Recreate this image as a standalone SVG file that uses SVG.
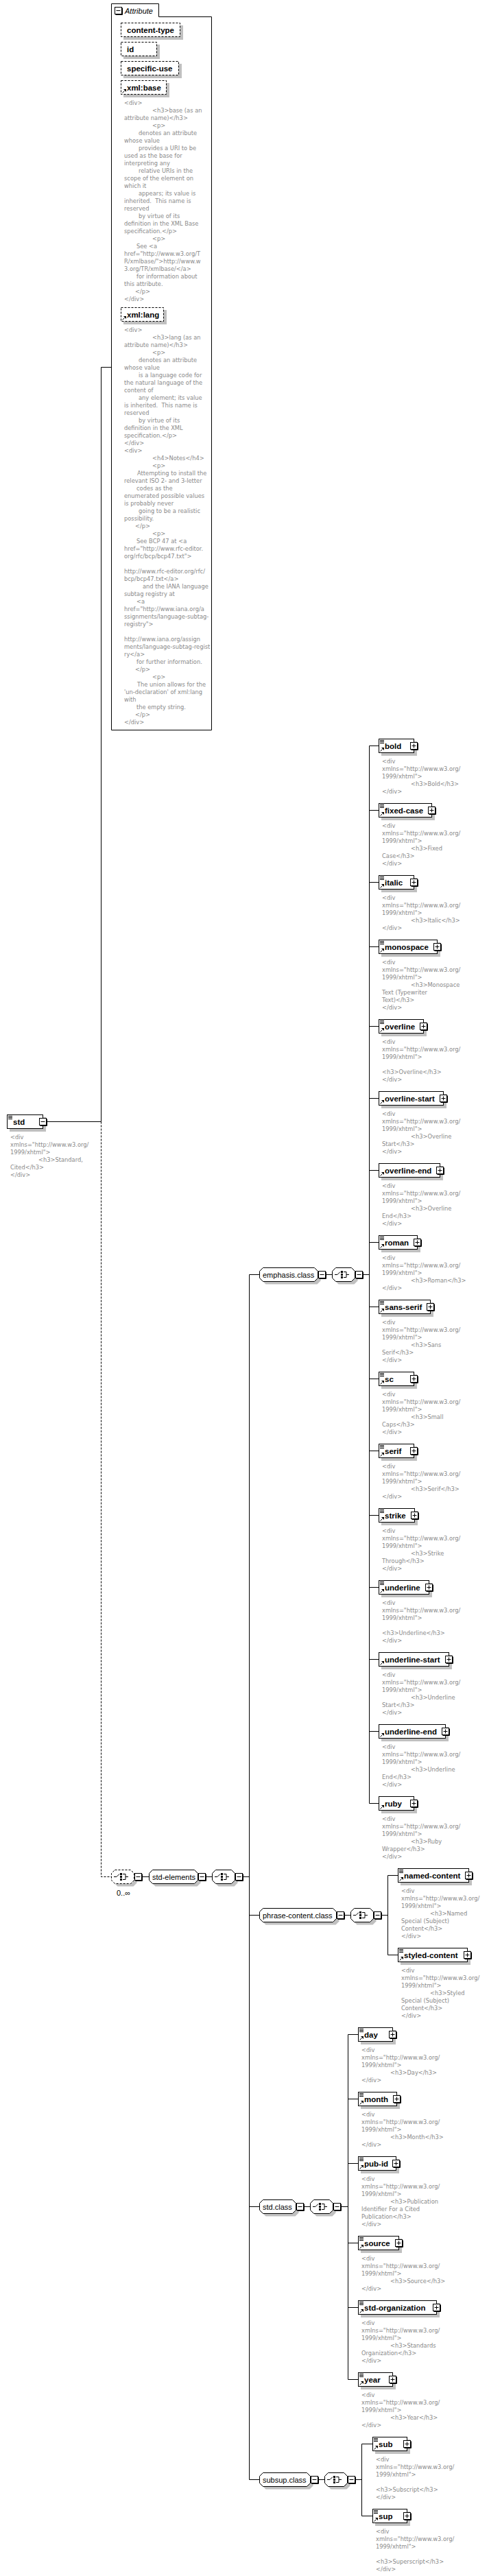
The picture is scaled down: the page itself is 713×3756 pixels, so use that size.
<svg xmlns="http://www.w3.org/2000/svg" width="713" height="3756" viewBox="0 0 713 3756">
<style>
.box{fill:#fff;stroke:#000;stroke-width:1}
.dbox{fill:#fff;stroke:#000;stroke-width:1;stroke-dasharray:3,2}
.sh{fill:#c0c0c0}
.lbl{font-family:"Liberation Sans",Arial,sans-serif;font-size:11.5px;font-weight:bold;fill:#000}
.glbl{font-family:"Liberation Sans",Arial,sans-serif;font-size:11px;fill:#000}
.ital{font-family:"Liberation Sans",Arial,sans-serif;font-size:11px;font-style:italic;fill:#000}
.d{font-family:"DejaVu Sans",Verdana,sans-serif;font-size:8.3px;fill:#8a8a8a}
.ln{fill:none;stroke:#000;stroke-width:1}
.dl{fill:none;stroke:#000;stroke-width:1;stroke-dasharray:3,2}
</style>
<defs>
<g id="plus"><path d="M11.5 1.5V11.5H1.5" class="ln"/><rect x="0.5" y="0.5" width="10" height="10" class="box"/><path d="M2.5 5.5H8.5M5.5 2.5V8.5" class="ln"/></g>
<g id="minus"><path d="M11.5 1.5V11.5H1.5" class="ln"/><rect x="0.5" y="0.5" width="10" height="10" class="box"/><path d="M2.5 5.5H8.5" class="ln"/></g>
<path id="eq" d="M2 2.5H8M2 4.5H8M2 6.5H8" class="ln"/>
<g id="ref"><path d="M2.5 18.5L5.5 15.5" class="ln"/><path d="M4 13H8V17Z" fill="#000"/></g>
<g id="choice"><path d="M4 10.5H8L12 6.5M17 6.5H21V14.5H17M21 10.5H25" class="ln"/><rect x="13" y="5" width="3" height="3"/><rect x="13" y="9" width="3" height="3"/><rect x="13" y="13" width="3" height="3"/></g>
</defs>
<rect width="713" height="3756" fill="#fff"/>

<g id="connectors">
<path class="ln" d="M68 1635.5H147.5M147.5 535.5V1635.5M147.5 535.5H162"/>
<path class="dl" d="M147.5 1635.5V2736.5H162"/>
<path class="ln" d="M207 2736.5H217M300 2736.5H309M354 2736.5H363.5M363.5 1858.5V3615.5"/>
<path class="ln" d="M363.5 1858.5H378M363.5 2792.5H378M363.5 3217.5H378M363.5 3615.5H378"/>
<path class="ln" d="M475 1858.5H484M529 1858.5H538.5M538.5 1087.5V2629.5"/>
<path class="ln" d="M538.5 1087.5H552M538.5 1181.5H552M538.5 1286.5H552M538.5 1380.5H552M538.5 1496.5H552M538.5 1601.5H552M538.5 1706.5H552M538.5 1811.5H552M538.5 1905.5H552M538.5 2010.5H552M538.5 2115.5H552M538.5 2209.5H552M538.5 2314.5H552M538.5 2419.5H552M538.5 2524.5H552M538.5 2629.5H552"/>
<path class="ln" d="M502 2792.5H511M556 2792.5H565.5M565.5 2734.5V2850.5M565.5 2734.5H580M565.5 2850.5H580"/>
<path class="ln" d="M443 3217.5H452M497 3217.5H507.5M507.5 2966.5V3469.5M507.5 2966.5H522M507.5 3060.5H522M507.5 3154.5H522M507.5 3270.5H522M507.5 3364.5H522M507.5 3469.5H522"/>
<path class="ln" d="M464 3615.5H473M518 3615.5H527.5M527.5 3563.5V3668.5M527.5 3563.5H543M527.5 3668.5H543"/>
</g>

<g id="attributes">
<path class="box" d="M162.5 5.5H231.5V24.5H308.5V1064.5H162.5Z"/>
<use href="#minus" x="167" y="10"/>
<text class="ital" x="182" y="20">Attribute</text>
</g>

<g id="attr-content-type">
<rect class="sh" x="180" y="37" width="87" height="21"/>
<rect class="dbox" x="176.5" y="33.5" width="86" height="20"/>
<text class="lbl" x="185" y="47.5">content-type</text>
</g>
<g id="attr-id">
<rect class="sh" x="180" y="65" width="53" height="21"/>
<rect class="dbox" x="176.5" y="61.5" width="52" height="20"/>
<text class="lbl" x="185" y="75.5">id</text>
</g>
<g id="attr-specific-use">
<rect class="sh" x="180" y="93" width="85" height="21"/>
<rect class="dbox" x="176.5" y="89.5" width="84" height="20"/>
<text class="lbl" x="185" y="103.5">specific-use</text>
</g>
<g id="attr-xml-base">
<rect class="sh" x="180" y="121" width="67" height="21"/>
<rect class="dbox" x="176.5" y="117.5" width="66" height="20"/>
<use href="#ref" x="176" y="117"/>
<text class="lbl" x="185" y="131.5">xml:base</text>
<text class="d">
<tspan x="181" y="153">&lt;div&gt;</tspan>
<tspan x="222" y="164">&lt;h3&gt;base (as an</tspan>
<tspan x="181" y="175">attribute name)&lt;/h3&gt;</tspan>
<tspan x="222" y="186">&lt;p&gt;</tspan>
<tspan x="202" y="197">denotes an attribute</tspan>
<tspan x="181" y="208">whose value</tspan>
<tspan x="202" y="219">provides a URI to be</tspan>
<tspan x="181" y="230">used as the base for</tspan>
<tspan x="181" y="241">interpreting any</tspan>
<tspan x="202" y="252">relative URIs in the</tspan>
<tspan x="181" y="263">scope of the element on</tspan>
<tspan x="181" y="274">which it</tspan>
<tspan x="202" y="285">appears; its value is</tspan>
<tspan x="181" y="296">inherited.&#160; This name is</tspan>
<tspan x="181" y="307">reserved</tspan>
<tspan x="202" y="318">by virtue of its</tspan>
<tspan x="181" y="329">definition in the XML Base</tspan>
<tspan x="181" y="340">specification.&lt;/p&gt;</tspan>
<tspan x="222" y="351">&lt;p&gt;</tspan>
<tspan x="199" y="362">See &lt;a</tspan>
<tspan x="181" y="373">href="http://www.w3.org/T</tspan>
<tspan x="181" y="384">R/xmlbase/"&gt;http://www.w</tspan>
<tspan x="181" y="395">3.org/TR/xmlbase/&lt;/a&gt;</tspan>
<tspan x="199" y="406">for information about</tspan>
<tspan x="181" y="417">this attribute.</tspan>
<tspan x="197" y="428">&lt;/p&gt;</tspan>
<tspan x="181" y="439">&lt;/div&gt;</tspan>
</text>
</g>
<g id="attr-xml-lang">
<rect class="sh" x="180" y="452" width="63" height="21"/>
<rect class="dbox" x="176.5" y="448.5" width="62" height="20"/>
<use href="#ref" x="176" y="448"/>
<text class="lbl" x="185" y="462.5">xml:lang</text>
<text class="d">
<tspan x="181" y="484">&lt;div&gt;</tspan>
<tspan x="222" y="495">&lt;h3&gt;lang (as an</tspan>
<tspan x="181" y="506">attribute name)&lt;/h3&gt;</tspan>
<tspan x="222" y="517">&lt;p&gt;</tspan>
<tspan x="202" y="528">denotes an attribute</tspan>
<tspan x="181" y="539">whose value</tspan>
<tspan x="202" y="550">is a language code for</tspan>
<tspan x="181" y="561">the natural language of the</tspan>
<tspan x="181" y="572">content of</tspan>
<tspan x="202" y="583">any element; its value</tspan>
<tspan x="181" y="594">is inherited.&#160; This name is</tspan>
<tspan x="181" y="605">reserved</tspan>
<tspan x="202" y="616">by virtue of its</tspan>
<tspan x="181" y="627">definition in the XML</tspan>
<tspan x="181" y="638">specification.&lt;/p&gt;</tspan>
<tspan x="181" y="649">&lt;/div&gt;</tspan>
<tspan x="181" y="660">&lt;div&gt;</tspan>
<tspan x="222" y="671">&lt;h4&gt;Notes&lt;/h4&gt;</tspan>
<tspan x="222" y="682">&lt;p&gt;</tspan>
<tspan x="200" y="693">Attempting to install the</tspan>
<tspan x="181" y="704">relevant ISO 2- and 3-letter</tspan>
<tspan x="199" y="715">codes as the</tspan>
<tspan x="181" y="726">enumerated possible values</tspan>
<tspan x="181" y="737">is probably never</tspan>
<tspan x="202" y="748">going to be a realistic</tspan>
<tspan x="181" y="759">possibility.</tspan>
<tspan x="197" y="770">&lt;/p&gt;</tspan>
<tspan x="222" y="781">&lt;p&gt;</tspan>
<tspan x="199" y="792">See BCP 47 at &lt;a</tspan>
<tspan x="181" y="803">href="http://www.rfc-editor.</tspan>
<tspan x="181" y="814">org/rfc/bcp/bcp47.txt"&gt;</tspan>
<tspan x="181" y="836">http://www.rfc-editor.org/rfc/</tspan>
<tspan x="181" y="847">bcp/bcp47.txt&lt;/a&gt;</tspan>
<tspan x="208" y="858">and the IANA language</tspan>
<tspan x="181" y="869">subtag registry at</tspan>
<tspan x="199" y="880">&lt;a</tspan>
<tspan x="181" y="891">href="http://www.iana.org/a</tspan>
<tspan x="181" y="902">ssignments/language-subtag-</tspan>
<tspan x="181" y="913">registry"&gt;</tspan>
<tspan x="181" y="935">http://www.iana.org/assign</tspan>
<tspan x="181" y="946">ments/language-subtag-regist</tspan>
<tspan x="181" y="957">ry&lt;/a&gt;</tspan>
<tspan x="199" y="968">for further information.</tspan>
<tspan x="197" y="979">&lt;/p&gt;</tspan>
<tspan x="222" y="990">&lt;p&gt;</tspan>
<tspan x="200" y="1001">The union allows for the</tspan>
<tspan x="181" y="1012">'un-declaration' of xml:lang</tspan>
<tspan x="181" y="1023">with</tspan>
<tspan x="199" y="1034">the empty string.</tspan>
<tspan x="197" y="1045">&lt;/p&gt;</tspan>
<tspan x="181" y="1056">&lt;/div&gt;</tspan>
</text>
</g>

<g id="std">
<rect class="sh" x="14" y="1629" width="53" height="21"/>
<rect class="box" x="10.5" y="1625.5" width="52" height="20"/>
<use href="#eq" x="10" y="1625"/>
<text class="lbl" x="19" y="1639.5">std</text>
<use href="#minus" x="57" y="1630"/>
<text class="d"><tspan x="15" y="1661">&lt;div</tspan><tspan x="15" y="1672">xmlns="http://www.w3.org/</tspan><tspan x="15" y="1683">1999/xhtml"&gt;</tspan><tspan x="56" y="1694">&lt;h3&gt;Standard,</tspan><tspan x="15" y="1705">Cited&lt;/h3&gt;</tspan><tspan x="15" y="1716">&lt;/div&gt;</tspan></text>
</g>

<g id="choice-std">
<polygon class="sh" transform="translate(4,4)" points="167.5,2726.5 190.5,2726.5 195.5,2731.5 195.5,2741.5 190.5,2746.5 167.5,2746.5 162.5,2741.5 162.5,2731.5"/>
<polygon class="dbox" points="167.5,2726.5 190.5,2726.5 195.5,2731.5 195.5,2741.5 190.5,2746.5 167.5,2746.5 162.5,2741.5 162.5,2731.5"/>
<use href="#choice" x="162" y="2726"/>
<use href="#minus" x="196" y="2731"/>
<text class="glbl" x="170" y="2764">0..∞</text>
</g>

<g id="std-elements">
<polygon class="sh" transform="translate(4,4)" points="222.5,2726.5 283.5,2726.5 288.5,2731.5 288.5,2741.5 283.5,2746.5 222.5,2746.5 217.5,2741.5 217.5,2731.5"/>
<polygon class="box" points="222.5,2726.5 283.5,2726.5 288.5,2731.5 288.5,2741.5 283.5,2746.5 222.5,2746.5 217.5,2741.5 217.5,2731.5"/>
<text class="glbl" x="222" y="2740.5">std-elements</text>
<use href="#minus" x="289" y="2731"/>
</g>

<g id="choice-std-elements">
<polygon class="sh" transform="translate(4,4)" points="314.5,2726.5 337.5,2726.5 342.5,2731.5 342.5,2741.5 337.5,2746.5 314.5,2746.5 309.5,2741.5 309.5,2731.5"/>
<polygon class="box" points="314.5,2726.5 337.5,2726.5 342.5,2731.5 342.5,2741.5 337.5,2746.5 314.5,2746.5 309.5,2741.5 309.5,2731.5"/>
<use href="#choice" x="309" y="2726"/>
<use href="#minus" x="343" y="2731"/>
</g>

<g id="emphasis-class">
<polygon class="sh" transform="translate(4,4)" points="383.5,1848.5 458.5,1848.5 463.5,1853.5 463.5,1863.5 458.5,1868.5 383.5,1868.5 378.5,1863.5 378.5,1853.5"/>
<polygon class="box" points="383.5,1848.5 458.5,1848.5 463.5,1853.5 463.5,1863.5 458.5,1868.5 383.5,1868.5 378.5,1863.5 378.5,1853.5"/>
<text class="glbl" x="383" y="1862.5">emphasis.class</text>
<use href="#minus" x="464" y="1853"/>
<polygon class="sh" transform="translate(4,4)" points="489.5,1848.5 512.5,1848.5 517.5,1853.5 517.5,1863.5 512.5,1868.5 489.5,1868.5 484.5,1863.5 484.5,1853.5"/>
<polygon class="box" points="489.5,1848.5 512.5,1848.5 517.5,1853.5 517.5,1863.5 512.5,1868.5 489.5,1868.5 484.5,1863.5 484.5,1853.5"/>
<use href="#choice" x="484" y="1848"/>
<use href="#minus" x="518" y="1853"/>
</g>

<g id="phrase-content-class">
<polygon class="sh" transform="translate(4,4)" points="383.5,2782.5 485.5,2782.5 490.5,2787.5 490.5,2797.5 485.5,2802.5 383.5,2802.5 378.5,2797.5 378.5,2787.5"/>
<polygon class="box" points="383.5,2782.5 485.5,2782.5 490.5,2787.5 490.5,2797.5 485.5,2802.5 383.5,2802.5 378.5,2797.5 378.5,2787.5"/>
<text class="glbl" x="383" y="2796.5">phrase-content.class</text>
<use href="#minus" x="491" y="2787"/>
<polygon class="sh" transform="translate(4,4)" points="516.5,2782.5 539.5,2782.5 544.5,2787.5 544.5,2797.5 539.5,2802.5 516.5,2802.5 511.5,2797.5 511.5,2787.5"/>
<polygon class="box" points="516.5,2782.5 539.5,2782.5 544.5,2787.5 544.5,2797.5 539.5,2802.5 516.5,2802.5 511.5,2797.5 511.5,2787.5"/>
<use href="#choice" x="511" y="2782"/>
<use href="#minus" x="545" y="2787"/>
</g>

<g id="std-class">
<polygon class="sh" transform="translate(4,4)" points="383.5,3207.5 426.5,3207.5 431.5,3212.5 431.5,3222.5 426.5,3227.5 383.5,3227.5 378.5,3222.5 378.5,3212.5"/>
<polygon class="box" points="383.5,3207.5 426.5,3207.5 431.5,3212.5 431.5,3222.5 426.5,3227.5 383.5,3227.5 378.5,3222.5 378.5,3212.5"/>
<text class="glbl" x="383" y="3221.5">std.class</text>
<use href="#minus" x="432" y="3212"/>
<polygon class="sh" transform="translate(4,4)" points="457.5,3207.5 480.5,3207.5 485.5,3212.5 485.5,3222.5 480.5,3227.5 457.5,3227.5 452.5,3222.5 452.5,3212.5"/>
<polygon class="box" points="457.5,3207.5 480.5,3207.5 485.5,3212.5 485.5,3222.5 480.5,3227.5 457.5,3227.5 452.5,3222.5 452.5,3212.5"/>
<use href="#choice" x="452" y="3207"/>
<use href="#minus" x="486" y="3212"/>
</g>

<g id="subsup-class">
<polygon class="sh" transform="translate(4,4)" points="383.5,3605.5 447.5,3605.5 452.5,3610.5 452.5,3620.5 447.5,3625.5 383.5,3625.5 378.5,3620.5 378.5,3610.5"/>
<polygon class="box" points="383.5,3605.5 447.5,3605.5 452.5,3610.5 452.5,3620.5 447.5,3625.5 383.5,3625.5 378.5,3620.5 378.5,3610.5"/>
<text class="glbl" x="383" y="3619.5">subsup.class</text>
<use href="#minus" x="453" y="3610"/>
<polygon class="sh" transform="translate(4,4)" points="478.5,3605.5 501.5,3605.5 506.5,3610.5 506.5,3620.5 501.5,3625.5 478.5,3625.5 473.5,3620.5 473.5,3610.5"/>
<polygon class="box" points="478.5,3605.5 501.5,3605.5 506.5,3610.5 506.5,3620.5 501.5,3625.5 478.5,3625.5 473.5,3620.5 473.5,3610.5"/>
<use href="#choice" x="473" y="3605"/>
<use href="#minus" x="507" y="3610"/>
</g>

<g id="el-bold">
<rect class="sh" x="556" y="1081" width="52" height="21"/><rect class="box" x="552.5" y="1077.5" width="51" height="20"/>
<use href="#eq" x="552" y="1077"/><use href="#ref" x="552" y="1077"/>
<text class="lbl" x="561" y="1091.5">bold</text><use href="#plus" x="598" y="1082"/>
<text class="d"><tspan x="557" y="1113">&lt;div</tspan><tspan x="557" y="1124">xmlns="http://www.w3.org/</tspan><tspan x="557" y="1135">1999/xhtml"&gt;</tspan><tspan x="599" y="1146">&lt;h3&gt;Bold&lt;/h3&gt;</tspan><tspan x="557" y="1157">&lt;/div&gt;</tspan></text>
</g>
<g id="el-fixed-case">
<rect class="sh" x="556" y="1175" width="78" height="21"/><rect class="box" x="552.5" y="1171.5" width="77" height="20"/>
<use href="#eq" x="552" y="1171"/><use href="#ref" x="552" y="1171"/>
<text class="lbl" x="561" y="1185.5">fixed-case</text><use href="#plus" x="624" y="1176"/>
<text class="d"><tspan x="557" y="1207">&lt;div</tspan><tspan x="557" y="1218">xmlns="http://www.w3.org/</tspan><tspan x="557" y="1229">1999/xhtml"&gt;</tspan><tspan x="599" y="1240">&lt;h3&gt;Fixed</tspan><tspan x="557" y="1251">Case&lt;/h3&gt;</tspan><tspan x="557" y="1262">&lt;/div&gt;</tspan></text>
</g>
<g id="el-italic">
<rect class="sh" x="556" y="1280" width="52" height="21"/><rect class="box" x="552.5" y="1276.5" width="51" height="20"/>
<use href="#eq" x="552" y="1276"/><use href="#ref" x="552" y="1276"/>
<text class="lbl" x="561" y="1290.5">italic</text><use href="#plus" x="598" y="1281"/>
<text class="d"><tspan x="557" y="1312">&lt;div</tspan><tspan x="557" y="1323">xmlns="http://www.w3.org/</tspan><tspan x="557" y="1334">1999/xhtml"&gt;</tspan><tspan x="599" y="1345">&lt;h3&gt;Italic&lt;/h3&gt;</tspan><tspan x="557" y="1356">&lt;/div&gt;</tspan></text>
</g>
<g id="el-monospace">
<rect class="sh" x="556" y="1374" width="86" height="21"/><rect class="box" x="552.5" y="1370.5" width="85" height="20"/>
<use href="#eq" x="552" y="1370"/><use href="#ref" x="552" y="1370"/>
<text class="lbl" x="561" y="1384.5">monospace</text><use href="#plus" x="632" y="1375"/>
<text class="d"><tspan x="557" y="1406">&lt;div</tspan><tspan x="557" y="1417">xmlns="http://www.w3.org/</tspan><tspan x="557" y="1428">1999/xhtml"&gt;</tspan><tspan x="599" y="1439">&lt;h3&gt;Monospace</tspan><tspan x="557" y="1450">Text (Typewriter</tspan><tspan x="557" y="1461">Text)&lt;/h3&gt;</tspan><tspan x="557" y="1472">&lt;/div&gt;</tspan></text>
</g>
<g id="el-overline">
<rect class="sh" x="556" y="1490" width="66" height="21"/><rect class="box" x="552.5" y="1486.5" width="65" height="20"/>
<use href="#eq" x="552" y="1486"/><use href="#ref" x="552" y="1486"/>
<text class="lbl" x="561" y="1500.5">overline</text><use href="#plus" x="612" y="1491"/>
<text class="d"><tspan x="557" y="1522">&lt;div</tspan><tspan x="557" y="1533">xmlns="http://www.w3.org/</tspan><tspan x="557" y="1544">1999/xhtml"&gt;</tspan><tspan x="557" y="1566">&lt;h3&gt;Overline&lt;/h3&gt;</tspan><tspan x="557" y="1577">&lt;/div&gt;</tspan></text>
</g>
<g id="el-overline-start">
<rect class="sh" x="556" y="1595" width="95" height="21"/><rect class="box" x="552.5" y="1591.5" width="94" height="20"/>
<use href="#ref" x="552" y="1591"/>
<text class="lbl" x="561" y="1605.5">overline-start</text><use href="#plus" x="641" y="1596"/>
<text class="d"><tspan x="557" y="1627">&lt;div</tspan><tspan x="557" y="1638">xmlns="http://www.w3.org/</tspan><tspan x="557" y="1649">1999/xhtml"&gt;</tspan><tspan x="599" y="1660">&lt;h3&gt;Overline</tspan><tspan x="557" y="1671">Start&lt;/h3&gt;</tspan><tspan x="557" y="1682">&lt;/div&gt;</tspan></text>
</g>
<g id="el-overline-end">
<rect class="sh" x="556" y="1700" width="90" height="21"/><rect class="box" x="552.5" y="1696.5" width="89" height="20"/>
<use href="#ref" x="552" y="1696"/>
<text class="lbl" x="561" y="1710.5">overline-end</text><use href="#plus" x="636" y="1701"/>
<text class="d"><tspan x="557" y="1732">&lt;div</tspan><tspan x="557" y="1743">xmlns="http://www.w3.org/</tspan><tspan x="557" y="1754">1999/xhtml"&gt;</tspan><tspan x="599" y="1765">&lt;h3&gt;Overline</tspan><tspan x="557" y="1776">End&lt;/h3&gt;</tspan><tspan x="557" y="1787">&lt;/div&gt;</tspan></text>
</g>
<g id="el-roman">
<rect class="sh" x="556" y="1805" width="57" height="21"/><rect class="box" x="552.5" y="1801.5" width="56" height="20"/>
<use href="#eq" x="552" y="1801"/><use href="#ref" x="552" y="1801"/>
<text class="lbl" x="561" y="1815.5">roman</text><use href="#plus" x="603" y="1806"/>
<text class="d"><tspan x="557" y="1837">&lt;div</tspan><tspan x="557" y="1848">xmlns="http://www.w3.org/</tspan><tspan x="557" y="1859">1999/xhtml"&gt;</tspan><tspan x="599" y="1870">&lt;h3&gt;Roman&lt;/h3&gt;</tspan><tspan x="557" y="1881">&lt;/div&gt;</tspan></text>
</g>
<g id="el-sans-serif">
<rect class="sh" x="556" y="1899" width="76" height="21"/><rect class="box" x="552.5" y="1895.5" width="75" height="20"/>
<use href="#eq" x="552" y="1895"/><use href="#ref" x="552" y="1895"/>
<text class="lbl" x="561" y="1909.5">sans-serif</text><use href="#plus" x="622" y="1900"/>
<text class="d"><tspan x="557" y="1931">&lt;div</tspan><tspan x="557" y="1942">xmlns="http://www.w3.org/</tspan><tspan x="557" y="1953">1999/xhtml"&gt;</tspan><tspan x="599" y="1964">&lt;h3&gt;Sans</tspan><tspan x="557" y="1975">Serif&lt;/h3&gt;</tspan><tspan x="557" y="1986">&lt;/div&gt;</tspan></text>
</g>
<g id="el-sc">
<rect class="sh" x="556" y="2004" width="52" height="21"/><rect class="box" x="552.5" y="2000.5" width="51" height="20"/>
<use href="#eq" x="552" y="2000"/><use href="#ref" x="552" y="2000"/>
<text class="lbl" x="561" y="2014.5">sc</text><use href="#plus" x="598" y="2005"/>
<text class="d"><tspan x="557" y="2036">&lt;div</tspan><tspan x="557" y="2047">xmlns="http://www.w3.org/</tspan><tspan x="557" y="2058">1999/xhtml"&gt;</tspan><tspan x="599" y="2069">&lt;h3&gt;Small</tspan><tspan x="557" y="2080">Caps&lt;/h3&gt;</tspan><tspan x="557" y="2091">&lt;/div&gt;</tspan></text>
</g>
<g id="el-serif">
<rect class="sh" x="556" y="2109" width="52" height="21"/><rect class="box" x="552.5" y="2105.5" width="51" height="20"/>
<use href="#eq" x="552" y="2105"/><use href="#ref" x="552" y="2105"/>
<text class="lbl" x="561" y="2119.5">serif</text><use href="#plus" x="598" y="2110"/>
<text class="d"><tspan x="557" y="2141">&lt;div</tspan><tspan x="557" y="2152">xmlns="http://www.w3.org/</tspan><tspan x="557" y="2163">1999/xhtml"&gt;</tspan><tspan x="599" y="2174">&lt;h3&gt;Serif&lt;/h3&gt;</tspan><tspan x="557" y="2185">&lt;/div&gt;</tspan></text>
</g>
<g id="el-strike">
<rect class="sh" x="556" y="2203" width="53" height="21"/><rect class="box" x="552.5" y="2199.5" width="52" height="20"/>
<use href="#eq" x="552" y="2199"/><use href="#ref" x="552" y="2199"/>
<text class="lbl" x="561" y="2213.5">strike</text><use href="#plus" x="599" y="2204"/>
<text class="d"><tspan x="557" y="2235">&lt;div</tspan><tspan x="557" y="2246">xmlns="http://www.w3.org/</tspan><tspan x="557" y="2257">1999/xhtml"&gt;</tspan><tspan x="599" y="2268">&lt;h3&gt;Strike</tspan><tspan x="557" y="2279">Through&lt;/h3&gt;</tspan><tspan x="557" y="2290">&lt;/div&gt;</tspan></text>
</g>
<g id="el-underline">
<rect class="sh" x="556" y="2308" width="74" height="21"/><rect class="box" x="552.5" y="2304.5" width="73" height="20"/>
<use href="#eq" x="552" y="2304"/><use href="#ref" x="552" y="2304"/>
<text class="lbl" x="561" y="2318.5">underline</text><use href="#plus" x="620" y="2309"/>
<text class="d"><tspan x="557" y="2340">&lt;div</tspan><tspan x="557" y="2351">xmlns="http://www.w3.org/</tspan><tspan x="557" y="2362">1999/xhtml"&gt;</tspan><tspan x="557" y="2384">&lt;h3&gt;Underline&lt;/h3&gt;</tspan><tspan x="557" y="2395">&lt;/div&gt;</tspan></text>
</g>
<g id="el-underline-start">
<rect class="sh" x="556" y="2413" width="103" height="21"/><rect class="box" x="552.5" y="2409.5" width="102" height="20"/>
<use href="#ref" x="552" y="2409"/>
<text class="lbl" x="561" y="2423.5">underline-start</text><use href="#plus" x="649" y="2414"/>
<text class="d"><tspan x="557" y="2445">&lt;div</tspan><tspan x="557" y="2456">xmlns="http://www.w3.org/</tspan><tspan x="557" y="2467">1999/xhtml"&gt;</tspan><tspan x="599" y="2478">&lt;h3&gt;Underline</tspan><tspan x="557" y="2489">Start&lt;/h3&gt;</tspan><tspan x="557" y="2500">&lt;/div&gt;</tspan></text>
</g>
<g id="el-underline-end">
<rect class="sh" x="556" y="2518" width="98" height="21"/><rect class="box" x="552.5" y="2514.5" width="97" height="20"/>
<use href="#ref" x="552" y="2514"/>
<text class="lbl" x="561" y="2528.5">underline-end</text><use href="#plus" x="644" y="2519"/>
<text class="d"><tspan x="557" y="2550">&lt;div</tspan><tspan x="557" y="2561">xmlns="http://www.w3.org/</tspan><tspan x="557" y="2572">1999/xhtml"&gt;</tspan><tspan x="599" y="2583">&lt;h3&gt;Underline</tspan><tspan x="557" y="2594">End&lt;/h3&gt;</tspan><tspan x="557" y="2605">&lt;/div&gt;</tspan></text>
</g>
<g id="el-ruby">
<rect class="sh" x="556" y="2623" width="52" height="21"/><rect class="box" x="552.5" y="2619.5" width="51" height="20"/>
<use href="#ref" x="552" y="2619"/>
<text class="lbl" x="561" y="2633.5">ruby</text><use href="#plus" x="598" y="2624"/>
<text class="d"><tspan x="557" y="2655">&lt;div</tspan><tspan x="557" y="2666">xmlns="http://www.w3.org/</tspan><tspan x="557" y="2677">1999/xhtml"&gt;</tspan><tspan x="599" y="2688">&lt;h3&gt;Ruby</tspan><tspan x="557" y="2699">Wrapper&lt;/h3&gt;</tspan><tspan x="557" y="2710">&lt;/div&gt;</tspan></text>
</g>
<g id="el-named-content">
<rect class="sh" x="584" y="2728" width="104" height="21"/><rect class="box" x="580.5" y="2724.5" width="103" height="20"/>
<use href="#eq" x="580" y="2724"/><use href="#ref" x="580" y="2724"/>
<text class="lbl" x="589" y="2738.5">named-content</text><use href="#plus" x="678" y="2729"/>
<text class="d"><tspan x="585" y="2760">&lt;div</tspan><tspan x="585" y="2771">xmlns="http://www.w3.org/</tspan><tspan x="585" y="2782">1999/xhtml"&gt;</tspan><tspan x="627" y="2793">&lt;h3&gt;Named</tspan><tspan x="585" y="2804">Special (Subject)</tspan><tspan x="585" y="2815">Content&lt;/h3&gt;</tspan><tspan x="585" y="2826">&lt;/div&gt;</tspan></text>
</g>
<g id="el-styled-content">
<rect class="sh" x="584" y="2844" width="102" height="21"/><rect class="box" x="580.5" y="2840.5" width="101" height="20"/>
<use href="#eq" x="580" y="2840"/><use href="#ref" x="580" y="2840"/>
<text class="lbl" x="589" y="2854.5">styled-content</text><use href="#plus" x="676" y="2845"/>
<text class="d"><tspan x="585" y="2876">&lt;div</tspan><tspan x="585" y="2887">xmlns="http://www.w3.org/</tspan><tspan x="585" y="2898">1999/xhtml"&gt;</tspan><tspan x="627" y="2909">&lt;h3&gt;Styled</tspan><tspan x="585" y="2920">Special (Subject)</tspan><tspan x="585" y="2931">Content&lt;/h3&gt;</tspan><tspan x="585" y="2942">&lt;/div&gt;</tspan></text>
</g>
<g id="el-day">
<rect class="sh" x="526" y="2960" width="51" height="21"/><rect class="box" x="522.5" y="2956.5" width="50" height="20"/>
<use href="#eq" x="522" y="2956"/><use href="#ref" x="522" y="2956"/>
<text class="lbl" x="531" y="2970.5">day</text><use href="#plus" x="567" y="2961"/>
<text class="d"><tspan x="527" y="2992">&lt;div</tspan><tspan x="527" y="3003">xmlns="http://www.w3.org/</tspan><tspan x="527" y="3014">1999/xhtml"&gt;</tspan><tspan x="569" y="3025">&lt;h3&gt;Day&lt;/h3&gt;</tspan><tspan x="527" y="3036">&lt;/div&gt;</tspan></text>
</g>
<g id="el-month">
<rect class="sh" x="526" y="3054" width="57" height="21"/><rect class="box" x="522.5" y="3050.5" width="56" height="20"/>
<use href="#eq" x="522" y="3050"/><use href="#ref" x="522" y="3050"/>
<text class="lbl" x="531" y="3064.5">month</text><use href="#plus" x="573" y="3055"/>
<text class="d"><tspan x="527" y="3086">&lt;div</tspan><tspan x="527" y="3097">xmlns="http://www.w3.org/</tspan><tspan x="527" y="3108">1999/xhtml"&gt;</tspan><tspan x="569" y="3119">&lt;h3&gt;Month&lt;/h3&gt;</tspan><tspan x="527" y="3130">&lt;/div&gt;</tspan></text>
</g>
<g id="el-pub-id">
<rect class="sh" x="526" y="3148" width="56" height="21"/><rect class="box" x="522.5" y="3144.5" width="55" height="20"/>
<use href="#eq" x="522" y="3144"/><use href="#ref" x="522" y="3144"/>
<text class="lbl" x="531" y="3158.5">pub-id</text><use href="#plus" x="572" y="3149"/>
<text class="d"><tspan x="527" y="3180">&lt;div</tspan><tspan x="527" y="3191">xmlns="http://www.w3.org/</tspan><tspan x="527" y="3202">1999/xhtml"&gt;</tspan><tspan x="569" y="3213">&lt;h3&gt;Publication</tspan><tspan x="527" y="3224">Identifier For a Cited</tspan><tspan x="527" y="3235">Publication&lt;/h3&gt;</tspan><tspan x="527" y="3246">&lt;/div&gt;</tspan></text>
</g>
<g id="el-source">
<rect class="sh" x="526" y="3264" width="60" height="21"/><rect class="box" x="522.5" y="3260.5" width="59" height="20"/>
<use href="#eq" x="522" y="3260"/><use href="#ref" x="522" y="3260"/>
<text class="lbl" x="531" y="3274.5">source</text><use href="#plus" x="576" y="3265"/>
<text class="d"><tspan x="527" y="3296">&lt;div</tspan><tspan x="527" y="3307">xmlns="http://www.w3.org/</tspan><tspan x="527" y="3318">1999/xhtml"&gt;</tspan><tspan x="569" y="3329">&lt;h3&gt;Source&lt;/h3&gt;</tspan><tspan x="527" y="3340">&lt;/div&gt;</tspan></text>
</g>
<g id="el-std-organization">
<rect class="sh" x="526" y="3358" width="115" height="21"/><rect class="box" x="522.5" y="3354.5" width="114" height="20"/>
<use href="#eq" x="522" y="3354"/><use href="#ref" x="522" y="3354"/>
<text class="lbl" x="531" y="3368.5">std-organization</text><use href="#plus" x="631" y="3359"/>
<text class="d"><tspan x="527" y="3390">&lt;div</tspan><tspan x="527" y="3401">xmlns="http://www.w3.org/</tspan><tspan x="527" y="3412">1999/xhtml"&gt;</tspan><tspan x="569" y="3423">&lt;h3&gt;Standards</tspan><tspan x="527" y="3434">Organization&lt;/h3&gt;</tspan><tspan x="527" y="3445">&lt;/div&gt;</tspan></text>
</g>
<g id="el-year">
<rect class="sh" x="526" y="3463" width="51" height="21"/><rect class="box" x="522.5" y="3459.5" width="50" height="20"/>
<use href="#eq" x="522" y="3459"/><use href="#ref" x="522" y="3459"/>
<text class="lbl" x="531" y="3473.5">year</text><use href="#plus" x="567" y="3464"/>
<text class="d"><tspan x="527" y="3495">&lt;div</tspan><tspan x="527" y="3506">xmlns="http://www.w3.org/</tspan><tspan x="527" y="3517">1999/xhtml"&gt;</tspan><tspan x="569" y="3528">&lt;h3&gt;Year&lt;/h3&gt;</tspan><tspan x="527" y="3539">&lt;/div&gt;</tspan></text>
</g>
<g id="el-sub">
<rect class="sh" x="547" y="3557" width="51" height="21"/><rect class="box" x="543.5" y="3553.5" width="50" height="20"/>
<use href="#eq" x="543" y="3553"/><use href="#ref" x="543" y="3553"/>
<text class="lbl" x="552" y="3567.5">sub</text><use href="#plus" x="588" y="3558"/>
<text class="d"><tspan x="548" y="3589">&lt;div</tspan><tspan x="548" y="3600">xmlns="http://www.w3.org/</tspan><tspan x="548" y="3611">1999/xhtml"&gt;</tspan><tspan x="548" y="3633">&lt;h3&gt;Subscript&lt;/h3&gt;</tspan><tspan x="548" y="3644">&lt;/div&gt;</tspan></text>
</g>
<g id="el-sup">
<rect class="sh" x="547" y="3662" width="51" height="21"/><rect class="box" x="543.5" y="3658.5" width="50" height="20"/>
<use href="#eq" x="543" y="3658"/><use href="#ref" x="543" y="3658"/>
<text class="lbl" x="552" y="3672.5">sup</text><use href="#plus" x="588" y="3663"/>
<text class="d"><tspan x="548" y="3694">&lt;div</tspan><tspan x="548" y="3705">xmlns="http://www.w3.org/</tspan><tspan x="548" y="3716">1999/xhtml"&gt;</tspan><tspan x="548" y="3738">&lt;h3&gt;Superscript&lt;/h3&gt;</tspan><tspan x="548" y="3749">&lt;/div&gt;</tspan></text>
</g>
</svg>
